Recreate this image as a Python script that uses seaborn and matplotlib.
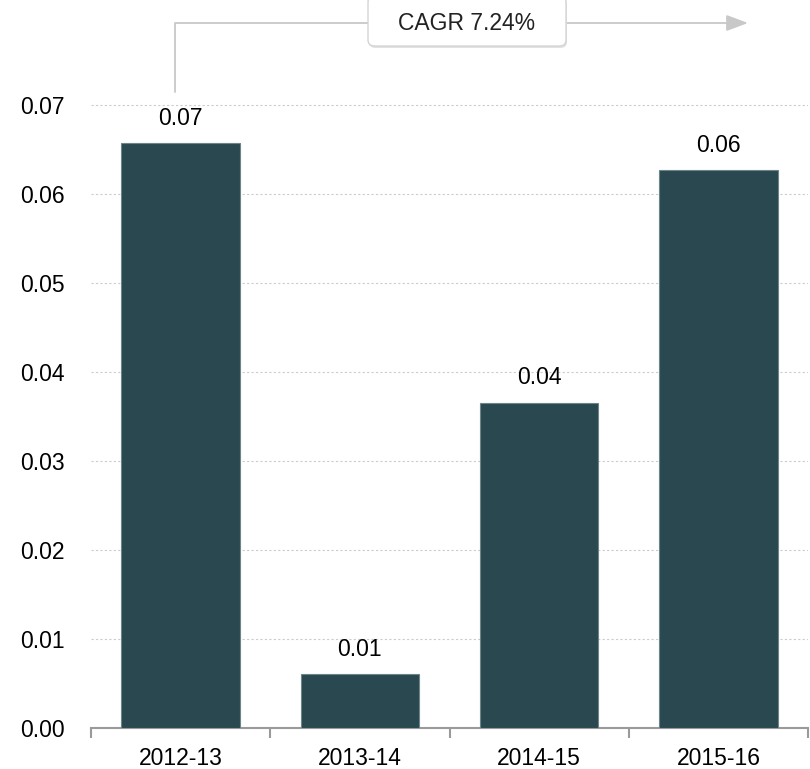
import matplotlib.pyplot as plt
import matplotlib.transforms as mtransforms
from matplotlib.patches import FancyBboxPatch
import pandas as pd
import seaborn as sns

#################### DATA ####################
years = ["2012-13", "2013-14", "2014-15", "2015-16"]
values = [0.0658, 0.0061, 0.0366, 0.0627]
labels = ["0.07", "0.01", "0.04", "0.06"]
cagr_text = "CAGR 7.24%"

BAR = "#2A4850"
GRID = "#cccccc"
AXIS = "#9a9a9a"
FS = 16.5

#################### CONFIG ####################
sns.set_style("white")
plt.rcParams["font.family"] = ["Liberation Sans", "DejaVu Sans"]
plt.rcParams["font.size"] = FS

df = pd.DataFrame({"year": years, "value": values})

fig = plt.figure(figsize=(8.10, 7.69), dpi=100)
W, H = 810, 769
ax = fig.add_axes([91 / W, (H - 728) / H, (808 - 91) / W, (728 - 61) / H])

sns.barplot(data=df, x="year", y="value", color=BAR, width=0.66,
            edgecolor="#6d8489", linewidth=0.8, saturation=1, ax=ax, zorder=3)

ax.set_ylim(0, 0.075)
ax.set_xlim(-0.5, len(years) - 0.5)
ax.set_yticks([0, 0.01, 0.02, 0.03, 0.04, 0.05, 0.06, 0.07])
ax.set_yticklabels([f"{t:.2f}" for t in ax.get_yticks()], fontsize=FS, color="black")
ax.yaxis.grid(True, color=GRID, linestyle=(0, (2, 2)), linewidth=0.8, zorder=0)
ax.tick_params(axis="y", length=0, pad=19)
ax.set_xlabel("")
ax.set_ylabel("")
ax.tick_params(axis="x", which="major", length=0, pad=14, labelsize=FS, labelcolor="black")
ax.set_xticks([i - 0.5 for i in range(len(years) + 1)], minor=True)
ax.tick_params(axis="x", which="minor", bottom=True, length=7, width=1.5,
               color=AXIS, direction="out")

for side in ["left", "right", "top"]:
    ax.spines[side].set_visible(False)
ax.spines["bottom"].set_color(AXIS)
ax.spines["bottom"].set_linewidth(1.5)

for i, (v, lab) in enumerate(zip(values, labels)):
    ax.annotate(lab, (i, v), xytext=(0, 9.5), textcoords="offset points",
                ha="center", va="bottom", fontsize=FS, color="black")

#################### CAGR bracket ####################
blend = mtransforms.blended_transform_factory(ax.transData, fig.transFigure)
y_line = 1 - 23 / H
x_start = -0.03
x_end = 3.08
ax.plot([x_start, x_start, x_end], [1 - 92 / H, y_line, y_line], transform=blend,
        color="#c8c8c8", linewidth=1.3, clip_on=False, zorder=1)
ax.annotate("", xy=(3.165, y_line), xytext=(x_end - 0.02, y_line),
            xycoords=blend, textcoords=blend,
            arrowprops=dict(arrowstyle="-|>,head_length=0.8,head_width=0.3",
                            color="#c8c8c8", lw=1.3, shrinkA=0, shrinkB=0))

bx0, bx1 = 368 / W, 566 / W
by0, by1 = 1 - 46 / H, 1 + 4 / H
shadow = FancyBboxPatch((bx0 + 1 / W, by0 - 2 / H), bx1 - bx0, by1 - by0,
                        boxstyle="round,pad=0,rounding_size=0.008",
                        transform=fig.transFigure, facecolor="#e2e2e2",
                        edgecolor="none", zorder=4)
box = FancyBboxPatch((bx0, by0), bx1 - bx0, by1 - by0,
                     boxstyle="round,pad=0,rounding_size=0.008",
                     transform=fig.transFigure, facecolor="white",
                     edgecolor="#d4d4d4", linewidth=1, zorder=5)
fig.patches.extend([shadow, box])
fig.text((bx0 + bx1) / 2, 1 - 24 / H, cagr_text, ha="center", va="center",
         fontsize=FS, color="#222222", zorder=6)

plt.savefig("out.png", dpi=100, facecolor="white")
